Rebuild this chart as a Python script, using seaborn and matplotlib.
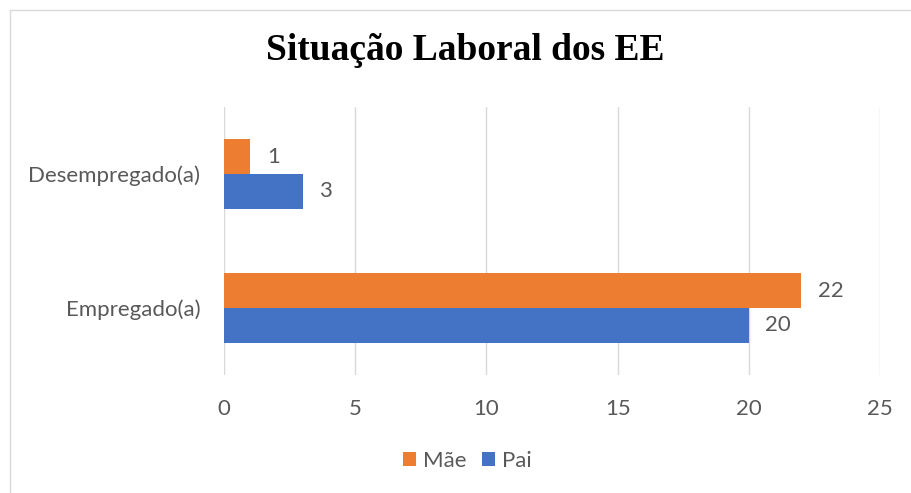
import matplotlib
matplotlib.use("Agg")
import matplotlib.pyplot as plt
import seaborn as sns
import pandas as pd
from matplotlib.lines import Line2D

# data
categories = ["Desempregado(a)", "Empregado(a)"]
mae_values = [1, 22]
pai_values = [3, 20]
series_names = ["Mãe", "Pai"]
x_ticks = [0, 5, 10, 15, 20, 25]

colors = {"Mãe": "#ED7D31", "Pai": "#4472C4"}
text_color = "#595959"
grid_color = "#D9D9D9"

df = pd.DataFrame({
    "Situação": categories * 2,
    "Pessoa": [series_names[0]] * len(categories) + [series_names[1]] * len(categories),
    "Valor": mae_values + pai_values,
})

sns.set_theme(style="white")
plt.rcParams["font.family"] = ["Lato", "DejaVu Sans"]

fig = plt.figure(figsize=(9.11, 4.93), dpi=100)
ax = fig.add_axes([224 / 911, 1 - 375 / 493, (880 - 224) / 911, (375 - 107) / 493])

sns.barplot(data=df, y="Situação", x="Valor", hue="Pessoa", order=categories,
            hue_order=series_names, palette=colors, orient="h", width=0.52,
            saturation=1, linewidth=0, ax=ax)

for cont in ax.containers:
    ax.bar_label(cont, fmt="%g", padding=12, fontsize=16, color=text_color)

ax.set_xlim(0, 25)
ax.set_xticks(x_ticks)
ax.set_ylim(1.5, -0.5)
ax.set_xlabel("")
ax.set_ylabel("")
for s in ax.spines.values():
    s.set_visible(False)
ax.grid(axis="x", color=grid_color, linewidth=1)
ax.grid(axis="y", visible=False)
ax.set_axisbelow(True)
ax.tick_params(axis="both", length=0, labelsize=16, labelcolor=text_color)
ax.tick_params(axis="y", pad=17)
ax.tick_params(axis="x", pad=17)

handles, labels = ax.get_legend_handles_labels()
ax.legend_.remove()
fig.legend(handles, labels, loc="center", bbox_to_anchor=(467 / 911, 1 - 461 / 493),
           ncol=2, frameon=False, fontsize=16, labelcolor=text_color,
           handlelength=0.6, handleheight=0.6, handletextpad=0.3, columnspacing=0.7)

fig.text(465 / 911, 1 - 51 / 493, "Situação Laboral dos EE", ha="center", va="center",
         fontsize=27, fontweight="bold", family=["Liberation Serif", "DejaVu Serif"],
         color="black")

# chart frame: only the top and left edges fall inside the picture
fig.lines.append(Line2D([10 / 911, 10 / 911, 1], [0, 1 - 10 / 493, 1 - 10 / 493],
                        transform=fig.transFigure, color=grid_color, linewidth=1))

fig.savefig("out.png", dpi=100)
